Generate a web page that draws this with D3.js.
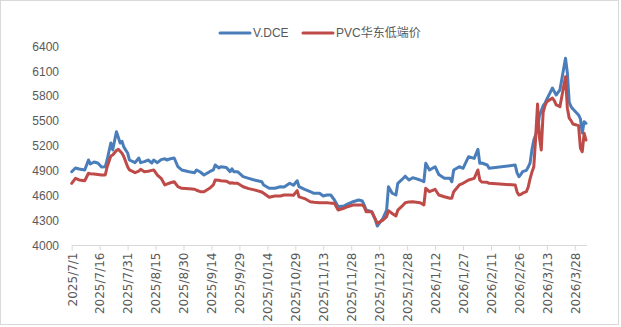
<!DOCTYPE html>
<html>
<head>
<meta charset="utf-8">
<script src="https://cdn.jsdelivr.net/npm/d3@7"></script>
<style>
  html, body { margin: 0; padding: 0; background: #fff; }
  svg { display: block; }
</style>
</head>
<body>
<svg id="chart" width="621" height="327"></svg>
<script>
// ---------- DATA ----------
const dates = [
  "2025-07-01","2025-07-03","2025-07-05","2025-07-08","2025-07-10","2025-07-11","2025-07-13","2025-07-15",
  "2025-07-17","2025-07-19","2025-07-20","2025-07-22","2025-07-23","2025-07-25","2025-07-26","2025-07-27",
  "2025-07-28","2025-07-29","2025-07-31","2025-08-01","2025-08-04","2025-08-06","2025-08-07","2025-08-09",
  "2025-08-11","2025-08-13","2025-08-14","2025-08-16","2025-08-18","2025-08-20","2025-08-21","2025-08-23",
  "2025-08-25","2025-08-27","2025-08-29","2025-09-02","2025-09-05","2025-09-06","2025-09-08","2025-09-10",
  "2025-09-13","2025-09-15","2025-09-16","2025-09-18","2025-09-19","2025-09-22","2025-09-24","2025-09-25",
  "2025-09-26","2025-09-28","2025-10-01","2025-10-04","2025-10-07","2025-10-11","2025-10-12","2025-10-15",
  "2025-10-18","2025-10-21","2025-10-23","2025-10-26","2025-10-28","2025-10-30","2025-10-31","2025-11-03",
  "2025-11-06","2025-11-08","2025-11-11","2025-11-13","2025-11-15","2025-11-17","2025-11-19","2025-11-21",
  "2025-11-24","2025-11-26","2025-11-29","2025-12-02","2025-12-04","2025-12-05","2025-12-06","2025-12-09",
  "2025-12-11","2025-12-12","2025-12-15","2025-12-17","2025-12-18","2025-12-20","2025-12-22","2025-12-23",
  "2025-12-25","2025-12-27","2025-12-29","2025-12-31","2026-01-04","2026-01-06","2026-01-07","2026-01-09",
  "2026-01-12","2026-01-14","2026-01-17","2026-01-20","2026-01-21","2026-01-22","2026-01-25","2026-01-27",
  "2026-01-30","2026-02-02","2026-02-04","2026-02-05","2026-02-06","2026-02-09","2026-02-10","2026-02-24",
  "2026-02-25","2026-02-26","2026-02-27","2026-02-28","2026-03-02","2026-03-03","2026-03-04","2026-03-05",
  "2026-03-06","2026-03-07","2026-03-08","2026-03-09","2026-03-10","2026-03-11","2026-03-12","2026-03-13",
  "2026-03-16","2026-03-17","2026-03-18","2026-03-19","2026-03-20","2026-03-23","2026-03-24","2026-03-25",
  "2026-03-26","2026-03-27","2026-03-30","2026-03-31","2026-04-01","2026-04-02","2026-04-03"
];
const vdce = [
  4884,4929,4917,4905,5025,4977,5001,4989,
  4941,4945,5025,5230,5146,5366,5300,5230,
  5250,5180,5110,5025,4993,5049,4993,5005,
  5025,4989,5025,4993,5030,5040,5025,5040,
  5049,4944,4905,4884,4872,4905,4880,4844,
  4884,4905,4965,4929,4944,4935,4884,4920,
  4884,4884,4824,4804,4784,4763,4724,4684,
  4684,4703,4700,4745,4720,4775,4703,4672,
  4643,4624,4624,4591,4603,4603,4543,4462,
  4470,4494,4522,4543,4530,4482,4422,4402,
  4302,4229,4322,4422,4703,4624,4603,4744,
  4784,4830,4784,4812,4784,4763,4985,4905,
  4944,4850,4804,4804,4763,4905,4944,4925,
  5065,5045,5154,4985,4989,4965,4925,4965,
  4870,4824,4850,4884,4900,4940,4990,5150,
  5266,5330,5400,5560,5620,5680,5710,5760,
  5893,5850,5809,5840,5869,6252,6074,5720,
  5668,5640,5568,5520,5351,5487,5468
];
const pvcEast = [
  4744,4804,4784,4775,4865,4860,4856,4850,
  4844,4844,4941,5073,5085,5140,5154,5130,
  5106,5065,4944,4905,4872,4890,4913,4884,
  4890,4900,4905,4844,4804,4724,4735,4751,
  4763,4703,4684,4678,4672,4660,4643,4643,
  4684,4724,4784,4780,4775,4770,4744,4750,
  4744,4744,4703,4680,4665,4640,4624,4575,
  4591,4591,4603,4603,4600,4655,4580,4560,
  4522,4515,4510,4510,4510,4505,4503,4422,
  4443,4462,4482,4482,4482,4460,4402,4402,
  4310,4262,4300,4341,4414,4380,4350,4420,
  4462,4510,4520,4522,4510,4482,4684,4643,
  4672,4603,4582,4563,4565,4643,4724,4744,
  4784,4804,4905,4784,4760,4756,4744,4724,
  4640,4603,4610,4625,4643,4700,4800,4880,
  4944,5300,5700,5300,5146,5600,5680,5728,
  5773,5740,5690,5680,5668,6030,5650,5530,
  5500,5460,5440,5170,5125,5347,5266
];
const seriesNames = ["V.DCE", "PVC华东低端价"];
const seriesColors = ["#4A7EBB", "#BE4B48"];
const xTickLabels = [
  "2025/7/1","2025/7/16","2025/7/31","2025/8/15","2025/8/30","2025/9/14","2025/9/29",
  "2025/10/14","2025/10/29","2025/11/13","2025/11/28","2025/12/13","2025/12/28",
  "2026/1/12","2026/1/27","2026/2/11","2026/2/26","2026/3/13","2026/3/28"
];
const yTicks = [4000,4300,4600,4900,5200,5500,5800,6100,6400];

// ---------- CHART ----------
const svg = d3.select("#chart");
const parseISO = d3.timeParse("%Y-%m-%d");
const parseLbl = d3.timeParse("%Y/%m/%d");
const dts = dates.map(parseISO);

// chart border
svg.append("rect").attr("x",0.5).attr("y",0.5).attr("width",618).attr("height",324)
  .attr("fill","#fff").attr("stroke","#d9d9d9").attr("stroke-width",1);

const x = d3.scaleTime()
  .domain([parseISO("2025-07-01"), parseISO("2026-04-03")])
  .range([71.7, 586]);
const y = d3.scaleLinear().domain([4000, 6400]).range([245, 46]);

// y labels
const yAxis = d3.axisLeft(y).tickValues(yTicks).tickSize(0).tickPadding(0).tickFormat(d3.format("d"));
const gy = svg.append("g").attr("transform","translate(59,0)").call(yAxis);
gy.select(".domain").remove();
gy.selectAll("text").attr("font-family","'Liberation Sans', Arial, sans-serif")
  .attr("font-size","12px").attr("fill","#595959").attr("dy","0.35em");

// x axis
const xTickDates = xTickLabels.map(parseLbl);
const xAxis = d3.axisBottom(x).tickValues(xTickDates).tickSize(5).tickPadding(0)
  .tickFormat((d,i) => xTickLabels[i]);
const gx = svg.append("g").attr("transform","translate(0,245.5)").call(xAxis);
gx.select(".domain").attr("d","M" + x.range()[0] + ",0H587").attr("stroke","#d9d9d9");
gx.selectAll(".tick line").attr("stroke","#d9d9d9");
gx.selectAll(".tick text")
  .attr("font-family","'DejaVu Sans', sans-serif").attr("font-size","12px").attr("fill","#595959")
  .attr("text-anchor","end").attr("transform","rotate(-90)")
  .attr("x",-7).attr("y",0).attr("dy","0.36em");

// lines
const pts = (vals) => vals.map((v,i) => ({d: dts[i], v}));
const line = d3.line().x(p => x(p.d)).y(p => y(p.v));
[vdce, pvcEast].forEach((vals, k) => {
  svg.append("path").datum(pts(vals))
    .attr("d", line).attr("fill","none")
    .attr("stroke", seriesColors[k]).attr("stroke-width", 3)
    .attr("stroke-linejoin","round").attr("stroke-linecap","round");
});

// legend
const legendItems = [
  {x1: 220, x2: 250, tx: 253},
  {x1: 303, x2: 333, tx: 336}
];
legendItems.forEach((it, k) => {
  svg.append("line").attr("x1", it.x1).attr("x2", it.x2).attr("y1", 33).attr("y2", 33)
    .attr("stroke", seriesColors[k]).attr("stroke-width", 3).attr("stroke-linecap","round");
  svg.append("text").attr("x", it.tx).attr("y", 37)
    .attr("font-family","'Liberation Sans', 'Noto Sans CJK SC', sans-serif")
    .attr("font-size","12px").attr("fill","#595959").text(seriesNames[k]);
});
</script>
</body>
</html>
